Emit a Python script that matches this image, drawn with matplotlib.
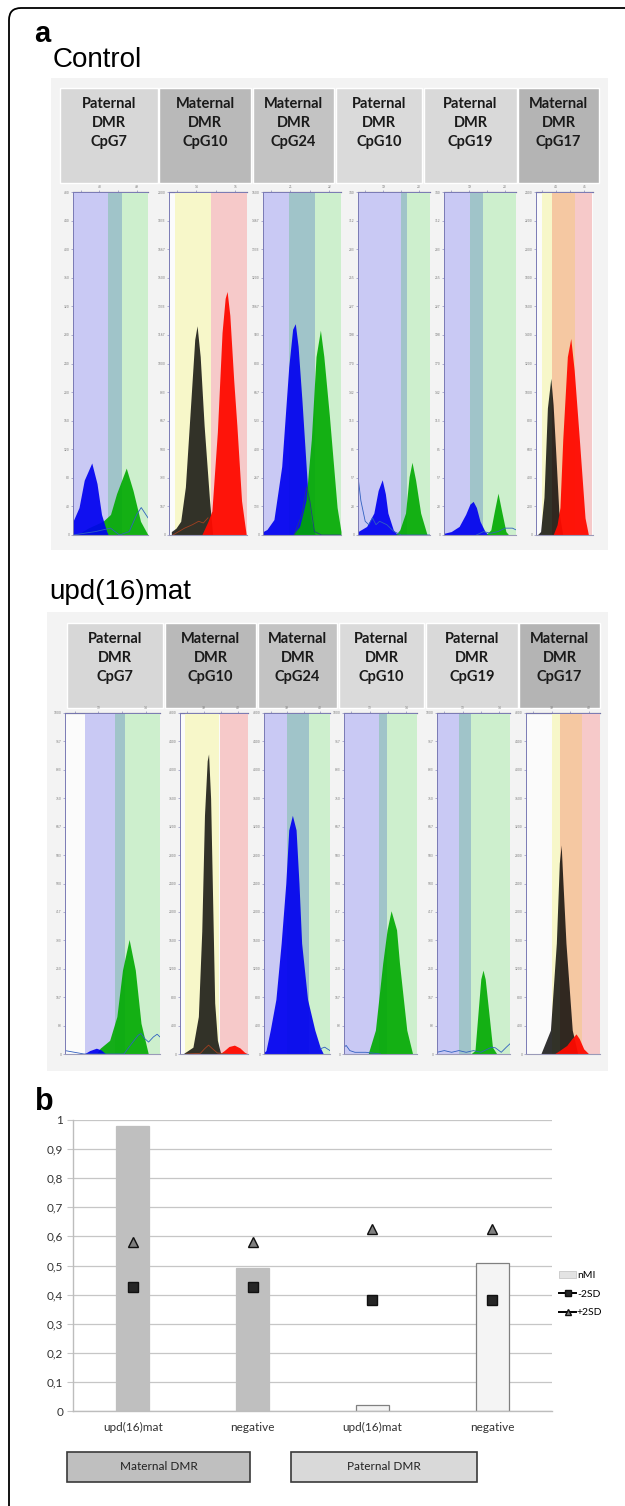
import numpy as np
import matplotlib.pyplot as plt
from matplotlib.patches import Rectangle, FancyBboxPatch, Patch
from matplotlib.lines import Line2D

W, H = 625, 1506

# ---- panel a: header labels ----
header_titles = ['Paternal\nDMR\nCpG7', 'Maternal\nDMR\nCpG10', 'Maternal\nDMR\nCpG24',
                 'Paternal\nDMR\nCpG10', 'Paternal\nDMR\nCpG19', 'Maternal\nDMR\nCpG17']
header_colors = ['#d7d7d7', '#b9b9b9', '#c3c3c3', '#dadada', '#d9d9d9', '#b4b4b4']

# background bands of each trace (kind, start, end as fraction of width)
ctrl_bands = [
    [('lav', 0, 0.47), ('teal', 0.47, 0.65), ('grn', 0.65, 1.0)],
    [('yel', 0.08, 0.54), ('pink', 0.54, 1.0)],
    [('lav', 0, 0.33), ('teal', 0.33, 0.67), ('grn', 0.67, 1.0)],
    [('lav', 0, 0.6), ('teal', 0.6, 0.68), ('grn', 0.68, 1.0)],
    [('lav', 0, 0.36), ('teal', 0.36, 0.54), ('grn', 0.54, 1.0)],
    [('yel', 0.1, 0.28), ('org', 0.28, 0.68), ('pink', 0.68, 0.98)],
]
upd_bands = [
    [('lav', 0.21, 0.53), ('teal', 0.53, 0.63), ('grn', 0.63, 1.0)],
    [('yel', 0.08, 0.57), ('pink', 0.585, 1.0)],
    [('lav', 0, 0.346), ('teal', 0.346, 0.68), ('grn', 0.68, 1.0)],
    [('lav', 0, 0.48), ('teal', 0.48, 0.585), ('grn', 0.585, 1.0)],
    [('lav', 0, 0.30), ('teal', 0.30, 0.47), ('grn', 0.47, 1.0)],
    [('yel', 0.35, 0.46), ('org', 0.46, 0.75), ('pink', 0.75, 1.0)],
]

# peak traces (x as fraction of width, y as fraction of y-range)
ctrl_p1 = [('green', [0.05, 0.2, 0.4, 0.5, 0.58, 0.71, 0.8, 0.9, 1.0],
            [0, 0.02, 0.04, 0.06, 0.12, 0.195, 0.13, 0.04, 0.0]),
           ('blue', [0, 0.08, 0.15, 0.25, 0.32, 0.38, 0.45, 0.47],
            [0.04, 0.08, 0.16, 0.21, 0.15, 0.06, 0.01, 0])]
ctrl_p2 = [('black', [0.03, 0.09, 0.15, 0.21, 0.28, 0.33, 0.36, 0.4, 0.45, 0.52, 0.56],
            [0.01, 0.02, 0.04, 0.14, 0.39, 0.57, 0.61, 0.52, 0.32, 0.1, 0.0]),
           ('red', [0.42, 0.5, 0.55, 0.62, 0.68, 0.72, 0.745, 0.78, 0.83, 0.87, 0.93, 0.99],
            [0, 0.04, 0.07, 0.3, 0.59, 0.69, 0.71, 0.64, 0.45, 0.32, 0.1, 0])]
ctrl_p3 = [('blue', [0, 0.05, 0.14, 0.24, 0.33, 0.38, 0.414, 0.45, 0.5, 0.57, 0.62, 0.67],
            [0.01, 0.016, 0.045, 0.2, 0.49, 0.6, 0.616, 0.55, 0.39, 0.14, 0.04, 0.0]),
           ('green', [0.38, 0.47, 0.55, 0.62, 0.68, 0.736, 0.78, 0.85, 0.95, 1.0],
            [0, 0.025, 0.1, 0.28, 0.52, 0.597, 0.52, 0.35, 0.08, 0.01])]
ctrl_p4 = [('blue', [0, 0.12, 0.22, 0.28, 0.336, 0.38, 0.415, 0.49, 0.55],
            [0.01, 0.025, 0.064, 0.13, 0.161, 0.12, 0.064, 0.015, 0]),
           ('green', [0.52, 0.58, 0.66, 0.71, 0.75, 0.8, 0.87, 0.96],
            [0, 0.015, 0.064, 0.17, 0.212, 0.16, 0.064, 0.0])]
ctrl_p5 = [('blue', [0, 0.1, 0.21, 0.3, 0.36, 0.405, 0.45, 0.5, 0.57, 0.62],
            [0.005, 0.01, 0.025, 0.06, 0.09, 0.098, 0.08, 0.04, 0.01, 0]),
           ('green', [0.58, 0.65, 0.7, 0.75, 0.8, 0.86, 0.9],
            [0, 0.015, 0.07, 0.122, 0.07, 0.01, 0])]
ctrl_p6 = [('black', [0.02, 0.08, 0.14, 0.2, 0.26, 0.3, 0.34, 0.4, 0.47],
            [0, 0.01, 0.11, 0.37, 0.457, 0.38, 0.26, 0.07, 0]),
           ('red', [0.3, 0.37, 0.42, 0.47, 0.55, 0.61, 0.67, 0.76, 0.86, 0.92],
            [0, 0.03, 0.08, 0.28, 0.52, 0.573, 0.48, 0.28, 0.05, 0])]

upd_p1 = [('green', [0.33, 0.37, 0.47, 0.546, 0.605, 0.675, 0.74, 0.8, 0.877],
           [0, 0.017, 0.04, 0.11, 0.246, 0.336, 0.246, 0.09, 0]),
          ('blue', [0.2, 0.26, 0.33, 0.38, 0.43], [0, 0.01, 0.017, 0.012, 0])]
upd_p2 = [('black', [0.04, 0.19, 0.27, 0.32, 0.36, 0.4, 0.42, 0.45, 0.48, 0.51, 0.55, 0.6],
           [0, 0.02, 0.11, 0.36, 0.7, 0.86, 0.88, 0.75, 0.45, 0.15, 0.04, 0]),
          ('red', [0.58, 0.65, 0.72, 0.8, 0.88, 0.95, 1.0],
           [0, 0.01, 0.022, 0.026, 0.018, 0.005, 0])]
upd_p3 = [('blue', [0, 0.03, 0.095, 0.18, 0.26, 0.33, 0.375, 0.43, 0.486, 0.53, 0.57, 0.66, 0.77, 0.85, 0.9],
           [0.005, 0.01, 0.07, 0.16, 0.325, 0.5, 0.657, 0.70, 0.657, 0.5, 0.325, 0.16, 0.07, 0.02, 0])]
upd_p4 = [('green', [0.33, 0.43, 0.53, 0.59, 0.645, 0.72, 0.76, 0.86, 0.94],
           [0, 0.07, 0.266, 0.364, 0.42, 0.364, 0.266, 0.07, 0])]
upd_p5 = [('green', [0.46, 0.52, 0.565, 0.6, 0.63, 0.66, 0.706, 0.76, 0.82],
           [0, 0.01, 0.129, 0.22, 0.246, 0.22, 0.129, 0.02, 0])]
upd_p6 = [('black', [0.2, 0.33, 0.41, 0.45, 0.475, 0.5, 0.54, 0.625, 0.7],
           [0, 0.07, 0.325, 0.56, 0.613, 0.5, 0.325, 0.07, 0]),
          ('red', [0.38, 0.45, 0.55, 0.62, 0.676, 0.72, 0.78, 0.85],
           [0, 0.01, 0.025, 0.045, 0.059, 0.045, 0.015, 0])]

# thin baseline traces
ctrl_lines = [
    ('#3060c0', [0, 0.3, 0.5, 0.62, 0.75, 0.85, 0.91, 0.97, 1.0], [0, 0.01, 0.02, 0.0, 0.01, 0.06, 0.08, 0.06, 0.05]),
    ('#a04020', [0.05, 0.2, 0.3, 0.38, 0.44, 0.5], [0.0, 0.02, 0.03, 0.04, 0.035, 0.05]),
    ('#204080', [0.4, 0.5, 0.56, 0.6, 0.66, 0.75, 1.0], [0.0, 0.06, 0.14, 0.1, 0.01, 0.0, 0.0]),
    ('#3060c0', [0, 0.04, 0.1, 0.15, 0.2, 0.25, 0.3, 0.4, 0.5, 0.6, 1.0], [0.17, 0.1, 0.04, 0.03, 0.05, 0.03, 0.04, 0.03, 0.01, 0.0, 0.0]),
    ('#3060c0', [0.45, 0.55, 0.65, 0.75, 0.85, 0.95, 1.0], [0, 0.01, 0.005, 0.01, 0.02, 0.02, 0.015]),
    None,
]
upd_lines = [
    ('#3060c0', [0, 0.2, 0.62, 0.7, 0.77, 0.8, 0.84, 0.88, 0.93, 0.97, 1.0], [0.01, 0.0, 0.0, 0.03, 0.055, 0.06, 0.045, 0.035, 0.05, 0.058, 0.05]),
    ('#a04020', [0.1, 0.3, 0.36, 0.42, 0.48, 0.55, 0.7], [0, 0.002, 0.015, 0.026, 0.015, 0.003, 0]),
    ('#3060c0', [0.85, 0.92, 1.0], [0.015, 0.02, 0.01]),
    ('#3060c0', [0, 0.03, 0.08, 0.15, 0.3, 0.5], [0.02, 0.025, 0.01, 0.005, 0.005, 0]),
    ('#3060c0', [0, 0.1, 0.2, 0.3, 0.4, 0.5, 0.6, 0.75, 0.8, 0.88, 0.95, 1.0], [0.005, 0.01, 0.005, 0.01, 0.005, 0.01, 0.005, 0.02, 0.018, 0.005, 0.02, 0.03]),
    None,
]
ctrl_ymax = [480, 2000, 1600, 340, 340, 2400]
upd_ymax = [1000, 4800, 4800, 1000, 1000, 4800]

# ---- panel b ----
b_categories = ['upd(16)mat', 'negative', 'upd(16)mat', 'negative']
b_nmi = [0.98, 0.49, 0.02, 0.51]
b_minus2sd = [0.425, 0.425, 0.38, 0.38]
b_plus2sd = [0.58, 0.58, 0.625, 0.625]
b_groups = ['Maternal DMR', 'Paternal DMR']

band_colors = {'lav': '#c9c9f4', 'teal': '#a0c4c9', 'grn': '#cdefcd',
               'yel': '#f7f7c9', 'pink': '#f6c9c9', 'org': '#f5c8a2'}
peak_colors = {'blue': ('#0000f0', 0.92), 'green': ('#00aa00', 0.9),
               'red': ('#ff0a00', 0.95), 'black': ('#000000', 0.8)}

fig = plt.figure(figsize=(W / 100, H / 100), dpi=100)

bg = fig.add_axes([0, 0, 1, 1])
bg.set_xlim(0, W)
bg.set_ylim(H, 0)
bg.axis('off')

bg.add_patch(FancyBboxPatch((9, 8), 700, 1600, boxstyle='round,pad=0,rounding_size=12',
                            fc='white', ec='black', lw=1.3))
bg.text(34, 42, 'a', fontsize=21, fontweight='bold', family='Liberation Sans', va='baseline')
bg.text(53, 67, 'Control', fontsize=20, family='Liberation Sans', va='baseline')
bg.text(49, 599, 'upd(16)mat', fontsize=20, family='Liberation Sans', va='baseline')
bg.text(35, 1110, 'b', fontsize=22, fontweight='bold', family='Liberation Sans', va='baseline')

bg.add_patch(Rectangle((51, 78), 557, 472, fc='#f3f3f3', ec='none'))
bg.add_patch(Rectangle((47, 612), 561, 459, fc='#f3f3f3', ec='none'))

ctrl_header_x = [(60, 158), (159, 251), (253, 334), (336, 422), (424, 517), (518, 599)]
upd_header_x = [(67, 163), (165, 256), (258, 337), (339, 424), (426, 518), (519, 600)]
for hx, (y0, y1, ty) in [(ctrl_header_x, (88, 183, 123)), (upd_header_x, (623, 708, 658))]:
    for (x0, x1), title, col in zip(hx, header_titles, header_colors):
        bg.add_patch(Rectangle((x0, y0), x1 - x0, y1 - y0, fc=col, ec='white', lw=1))
        bg.text((x0 + x1) / 2, ty, title, ha='center', va='center', fontsize=10.5,
                fontweight='bold', family='Lato', color='#1a1a1a', linespacing=1.45)


def trace_panel(x0, x1, top, bottom, bands, peaks, line, ymax):
    ax = fig.add_axes([x0 / W, 1 - bottom / H, (x1 - x0) / W, (bottom - top) / H])
    ax.set_facecolor('#fbfbfb')
    ax.set_xlim(0, 1)
    ax.set_ylim(0, 1)
    for kind, a, b in bands:
        ax.axvspan(a, b, color=band_colors[kind], lw=0)
    for kind, xs, ys in peaks:
        col, al = peak_colors[kind]
        ax.fill_between(xs, ys, color=col, alpha=al, lw=0)
    if line is not None:
        ax.plot(line[1], line[2], color=line[0], lw=0.6)
    for s in ['right']:
        ax.spines[s].set_visible(False)
    for s in ['left', 'top']:
        ax.spines[s].set_color('#7a7ab4')
        ax.spines[s].set_linewidth(0.7)
    ax.spines['bottom'].set_color('#9a9ab8')
    ax.spines['bottom'].set_linewidth(0.8)
    yt = np.linspace(0, 1, 13)
    ax.set_yticks(yt)
    ax.set_yticklabels([str(int(round(v * ymax))) for v in yt])
    ax.set_xticks([])
    ax.tick_params(axis='y', length=1.5, width=0.4, color='#7a7ab4', labelsize=2.2,
                   labelcolor='#777777', pad=1)
    top_ax = ax.secondary_xaxis('top')
    top_ax.set_xticks([0.1, 0.35, 0.6, 0.85])
    top_ax.set_xticklabels(['', str(ymax % 37 + 12), '', str(ymax % 37 + 13)])
    top_ax.tick_params(length=1.5, width=0.4, color='#7a7ab4', labelsize=2.2,
                       labelcolor='#777777', pad=0.5)
    return ax


ctrl_px = [(73, 148), (169, 247), (263, 341), (358, 430), (444, 516), (536, 593)]
upd_px = [(65, 160), (180, 248), (264, 330), (344, 417), (437, 510), (526, 600)]
ctrl_peaks = [ctrl_p1, ctrl_p2, ctrl_p3, ctrl_p4, ctrl_p5, ctrl_p6]
upd_peaks = [upd_p1, upd_p2, upd_p3, upd_p4, upd_p5, upd_p6]

for i in range(6):
    trace_panel(ctrl_px[i][0], ctrl_px[i][1], 192, 535, ctrl_bands[i], ctrl_peaks[i],
                ctrl_lines[i], ctrl_ymax[i])
    trace_panel(upd_px[i][0], upd_px[i][1], 713, 1054, upd_bands[i], upd_peaks[i],
                upd_lines[i], upd_ymax[i])

# ---- panel b chart ----
axb = fig.add_axes([73 / W, 1 - 1411 / H, (552 - 73) / W, (1411 - 1120) / H])
pos = np.arange(len(b_categories))
bar_fc = ['#bfbfbf', '#bfbfbf', '#f4f4f4', '#f4f4f4']
bar_ec = ['#bfbfbf', '#bfbfbf', '#808080', '#808080']
axb.bar(pos, b_nmi, width=0.275, color=bar_fc, edgecolor=bar_ec, lw=0.9, zorder=2)
axb.plot(pos, b_minus2sd, ls='none', marker='s', ms=6.5, mfc='#262626', mec='#111111', zorder=3)
axb.plot(pos, b_plus2sd, ls='none', marker='^', ms=6.5, mfc='#808080', mec='#111111', zorder=3)
axb.set_xlim(-0.5, 3.5)
axb.set_ylim(0, 1)
yt = np.arange(0, 1.01, 0.1)
axb.set_yticks(yt)
axb.set_yticklabels(['0' if v == 0 else ('1' if v > 0.99 else f'{v:.1f}'.replace('.', ','))
                     for v in yt], family='Lato', fontsize=8.5, color='#333333')
axb.set_xticks(pos)
axb.set_xticklabels(b_categories, family='Lato', fontsize=8.5, color='#333333')
axb.yaxis.grid(True, color='#c6c6c6', lw=0.9, zorder=0)
axb.set_axisbelow(True)
axb.tick_params(axis='y', length=4, color='#c6c6c6', pad=3)
axb.tick_params(axis='x', length=0, pad=8)
for s in ['top', 'right']:
    axb.spines[s].set_visible(False)
for s in ['left', 'bottom']:
    axb.spines[s].set_color('#bdbdbd')
    axb.spines[s].set_linewidth(1.0)

handles = [Patch(fc='#e3e3e3', ec='#c0c0c0', lw=0.5),
           Line2D([], [], color='black', lw=1.4, marker='s', ms=5, mfc='#262626', mec='#111111'),
           Line2D([], [], color='black', lw=1.4, marker='^', ms=5, mfc='#808080', mec='#111111')]
fig.legend(handles, ['nMI', '-2SD', '+2SD'], loc='center left',
           bbox_to_anchor=(554 / W, 1 - 1294 / H), frameon=False, handlelength=1.6,
           handletextpad=0.1, labelspacing=0.9, borderpad=0,
           prop={'family': 'Lato', 'size': 7.5})

group_x = [(67, 250), (291, 477)]
group_fc = ['#bfbfbf', '#d9d9d9']
for (x0, x1), label, fc in zip(group_x, b_groups, group_fc):
    bg.add_patch(Rectangle((x0, 1452), x1 - x0, 30, fc=fc, ec='#3a3a3a', lw=1.2))
    bg.text((x0 + x1) / 2, 1467, label, ha='center', va='center', family='Lato',
            fontsize=8.5, color='#222222')

fig.savefig('out.png', dpi=100)
